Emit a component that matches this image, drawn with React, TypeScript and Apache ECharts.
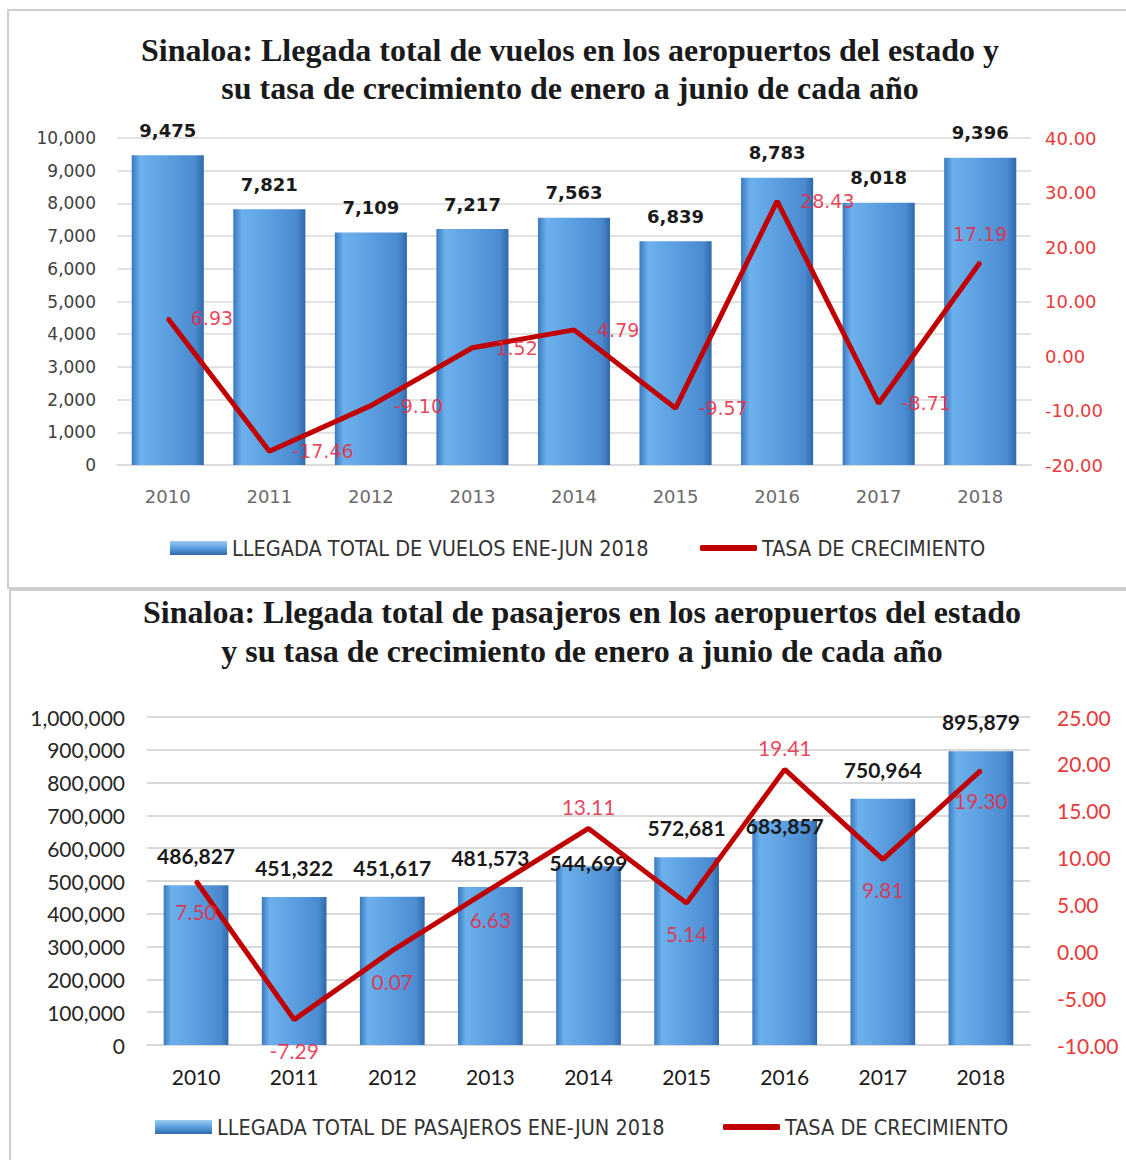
import React, { useEffect, useRef } from "react";
import * as echarts from "echarts";

const years = ["2010", "2011", "2012", "2013", "2014", "2015", "2016", "2017", "2018"];
const vuelos = [9475, 7821, 7109, 7217, 7563, 6839, 8783, 8018, 9396];
const tasaVuelos = [6.93, -17.46, -9.1, 1.52, 4.79, -9.57, 28.43, -8.71, 17.19];
const pasajeros = [486827, 451322, 451617, 481573, 544699, 572681, 683857, 750964, 895879];
const tasaPasajeros = [7.5, -7.29, 0.07, 6.63, 13.11, 5.14, 19.41, 9.81, 19.3];

const title1 = [
  "Sinaloa: Llegada total de vuelos en los aeropuertos del estado y",
  "su tasa de crecimiento de enero a junio de cada año",
];
const title2 = [
  "Sinaloa: Llegada total de pasajeros en los aeropuertos del estado",
  "y su tasa de crecimiento de enero a junio de cada año",
];
const legendBar1 = "LLEGADA TOTAL DE VUELOS ENE-JUN 2018";
const legendBar2 = "LLEGADA TOTAL DE PASAJEROS ENE-JUN 2018";
const legendLine = "TASA DE CRECIMIENTO";

// label placement (layout only)
const tasaVuelosLabelPos = ["right", "right", "right", "right", "right", "right", "right", "right", "top"];
const tasaPasajerosLabelPos = ["bottom", "bottom", "bottom", "bottom", "top", "bottom", "top", "bottom", "bottom"];
const pasajerosLabelShift = [0, 0, 0, 0, 26, 0, 34, 0, 0];

const fmtInt = (v: number) => Math.round(v).toLocaleString("en-US");

const barGradient = () =>
  new echarts.graphic.LinearGradient(0, 0, 1, 0, [
    { offset: 0, color: "#3a78bf" },
    { offset: 0.12, color: "#6cb0ec" },
    { offset: 0.5, color: "#5b9fe0" },
    { offset: 0.88, color: "#4b8ad0" },
    { offset: 1, color: "#2f69ab" },
  ]);

const legendBarGradient = () =>
  new echarts.graphic.LinearGradient(0, 0, 0, 1, [
    { offset: 0, color: "#9ccbf2" },
    { offset: 0.5, color: "#5b9fe0" },
    { offset: 1, color: "#2f69ab" },
  ]);

const RED = "#c00000";
const LABEL_RED = "rgba(230,45,70,0.88)";
const AXIS_RED = "#e83a3a";
const GRID = "#d9d9d9";
const LEGEND_FONT = '"Liberation Sans Narrow", "DejaVu Sans Condensed", sans-serif';

export default function App() {
  const ref = useRef<HTMLDivElement>(null);

  useEffect(() => {
    document.body.style.margin = "0";
    if (!ref.current) return;
    const chart = echarts.init(ref.current, undefined, { renderer: "svg" });

    const titleText = (text: string, y: number, cx: number) => ({
      type: "text",
      x: cx,
      y,
      style: {
        text,
        fill: "#1a1a1a",
        font: 'bold 32px "Liberation Serif", "DejaVu Serif", serif',
        textAlign: "center",
        textVerticalAlign: "middle",
      },
    });

    const barLegend = (name: string, left: number, top: number) => ({
      data: [{ name, icon: "rect", itemStyle: { color: legendBarGradient() } }],
      left,
      top,
      itemWidth: 57,
      itemHeight: 14,
      textStyle: { fontFamily: LEGEND_FONT, fontSize: 21.5, color: "#333" },
    });
    const lineLegend = (left: number, top: number) => ({
      data: [{ name: legendLine, icon: "roundRect", itemStyle: { color: RED } }],
      left,
      top,
      itemWidth: 57,
      itemHeight: 6,
      textStyle: { fontFamily: LEGEND_FONT, fontSize: 21.5, color: "#333" },
    });

    const option: any = {
      animation: false,
      backgroundColor: "#ffffff",
      graphic: [
        {
          type: "rect",
          shape: { x: 8, y: 10, width: 1140, height: 578 },
          style: { fill: "none", stroke: "#cfcfcf", lineWidth: 2 },
        },
        {
          type: "rect",
          shape: { x: 10, y: 590, width: 1140, height: 600 },
          style: { fill: "none", stroke: "#cfcfcf", lineWidth: 2 },
        },
        titleText(title1[0], 50, 570),
        titleText(title1[1], 88, 570),
        titleText(title2[0], 612, 582),
        titleText(title2[1], 651, 582),
      ],
      legend: [
        barLegend(legendBar1, 165, 532),
        lineLegend(695, 532),
        barLegend(legendBar2, 150, 1111),
        lineLegend(718, 1111),
      ],
      grid: [
        { left: 117, width: 914, top: 138, height: 327, containLabel: false },
        { left: 147, width: 883, top: 717, height: 328, containLabel: false },
      ],
      xAxis: [
        {
          type: "category",
          gridIndex: 0,
          data: years,
          axisTick: { show: false },
          axisLine: { lineStyle: { color: GRID, width: 1.5 } },
          axisLabel: { color: "#6b6b6b", fontFamily: '"DejaVu Sans", sans-serif', fontSize: 18, margin: 22 },
        },
        {
          type: "category",
          gridIndex: 1,
          data: years,
          axisTick: { show: false },
          axisLine: { lineStyle: { color: GRID, width: 2 } },
          axisLabel: { color: "#1a1a1a", fontFamily: "Lato, sans-serif", fontSize: 21, margin: 21 },
        },
      ],
      yAxis: [
        {
          type: "value",
          gridIndex: 0,
          min: 0,
          max: 10000,
          interval: 1000,
          axisLabel: { formatter: fmtInt, color: "#404040", fontFamily: '"DejaVu Sans", sans-serif', fontSize: 17, margin: 21 },
          splitLine: { lineStyle: { color: GRID, width: 1.5 } },
          axisLine: { show: false },
          axisTick: { show: false },
        },
        {
          type: "value",
          gridIndex: 0,
          position: "right",
          min: -20,
          max: 40,
          interval: 10,
          axisLabel: { formatter: (v: number) => v.toFixed(2), color: AXIS_RED, fontFamily: '"DejaVu Sans", sans-serif', fontSize: 18, margin: 14 },
          splitLine: { show: false },
          axisLine: { show: false },
          axisTick: { show: false },
        },
        {
          type: "value",
          gridIndex: 1,
          min: 0,
          max: 1000000,
          interval: 100000,
          axisLabel: { formatter: fmtInt, color: "#262626", fontFamily: "Lato, sans-serif", fontSize: 21, margin: 22 },
          splitLine: { lineStyle: { color: GRID, width: 2 } },
          axisLine: { show: false },
          axisTick: { show: false },
        },
        {
          type: "value",
          gridIndex: 1,
          position: "right",
          min: -10,
          max: 25,
          interval: 5,
          axisLabel: { formatter: (v: number) => v.toFixed(2), color: AXIS_RED, fontFamily: "Lato, sans-serif", fontSize: 21, margin: 27 },
          splitLine: { show: false },
          axisLine: { show: false },
          axisTick: { show: false },
        },
      ],
      series: [
        {
          name: legendBar1,
          type: "bar",
          xAxisIndex: 0,
          yAxisIndex: 0,
          barWidth: "71%",
          data: vuelos,
          itemStyle: { color: barGradient() },
          label: {
            show: true,
            position: "top",
            distance: 16,
            formatter: (p: any) => fmtInt(p.value),
            color: "#1a1a1a",
            fontFamily: '"DejaVu Sans", sans-serif',
            fontWeight: "bold",
            fontSize: 18,
          },
        },
        {
          name: legendLine,
          type: "line",
          xAxisIndex: 0,
          yAxisIndex: 1,
          symbol: "circle",
          symbolSize: 2,
          showSymbol: true,
          lineStyle: { color: RED, width: 5 },
          itemStyle: { color: RED },
          data: tasaVuelos.map((v, i) => ({
            value: v,
            label: {
              show: true,
              position: tasaVuelosLabelPos[i],
              distance: tasaVuelosLabelPos[i] === "top" ? 18 : 22,
              formatter: (p: any) => Number(p.value).toFixed(2),
              color: LABEL_RED,
              fontFamily: '"DejaVu Sans", sans-serif',
              fontSize: 19,
            },
          })),
        },
        {
          name: legendBar2,
          type: "bar",
          xAxisIndex: 1,
          yAxisIndex: 2,
          barWidth: "66%",
          data: pasajeros.map((v, i) => ({
            value: v,
            label: { offset: [0, pasajerosLabelShift[i]] },
          })),
          itemStyle: { color: barGradient() },
          label: {
            show: true,
            position: "top",
            distance: 19,
            formatter: (p: any) => fmtInt(p.value),
            color: "#1a1a1a",
            fontFamily: "Lato, sans-serif",
            fontWeight: "bold",
            fontSize: 21,
          },
        },
        {
          name: legendLine,
          type: "line",
          xAxisIndex: 1,
          yAxisIndex: 3,
          symbol: "circle",
          symbolSize: 2,
          showSymbol: true,
          lineStyle: { color: RED, width: 5 },
          itemStyle: { color: RED },
          data: tasaPasajeros.map((v, i) => ({
            value: v,
            label: {
              show: true,
              position: tasaPasajerosLabelPos[i],
              distance: tasaPasajerosLabelPos[i] === "top" ? 10 : 19,
              formatter: (p: any) => Number(p.value).toFixed(2),
              color: LABEL_RED,
              fontFamily: "Lato, sans-serif",
              fontSize: 21,
              lineHeight: 21,
            },
          })),
        },
      ],
    };

    chart.setOption(option);
    return () => chart.dispose();
  }, []);

  return <div ref={ref} style={{ width: 1126, height: 1160 }} />;
}
